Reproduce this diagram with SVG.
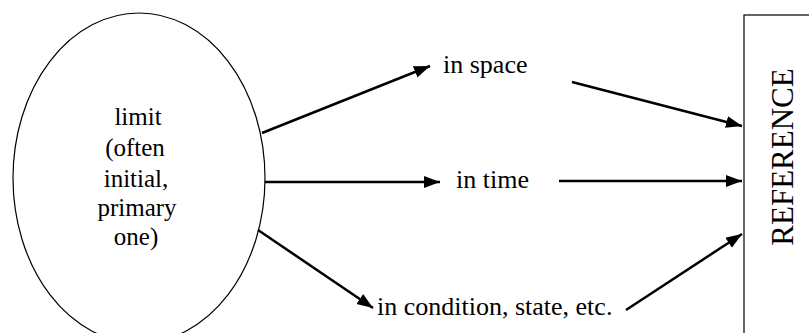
<svg xmlns="http://www.w3.org/2000/svg" width="809" height="333" viewBox="0 0 809 333">
<style>
.t{font-family:'Liberation Serif','Times New Roman',Times,serif;font-size:25px;fill:#000}
.l{font-size:26px}
.c{stroke:#000;stroke-width:2.5;fill:none;marker-end:url(#ah)}
.s{stroke:#000;stroke-width:1.2;fill:#fff}
</style>
<defs>
<marker id="ah" markerUnits="userSpaceOnUse" markerWidth="17" markerHeight="13" refX="16" refY="6" orient="auto">
<path d="M0,0 L16,6 L0,12 z" fill="#000"/>
</marker>
</defs>
<rect width="809" height="333" fill="#fff"/>
<g id="limit">
<ellipse class="s" cx="139" cy="178" rx="126" ry="165"/>
<text class="t" text-anchor="middle"><tspan x="138" y="125">limit</tspan><tspan x="135" y="156">(often</tspan><tspan x="136" y="187">initial,</tspan><tspan x="137" y="216">primary</tspan><tspan x="136" y="245">one)</tspan></text>
</g>
<g id="space"><text class="t l" x="443" y="73">in space</text></g>
<g id="time"><text class="t l" x="456" y="188">in time</text></g>
<g id="condition"><text class="t l" x="377" y="315">in condition, state, etc.</text></g>
<g id="reference">
<rect class="s" x="744" y="15" width="80" height="340"/>
<text class="t" style="font-size:31px" text-anchor="middle" transform="translate(793,157) rotate(-90)">REFERENCE</text>
</g>
<g id="connectors">
<line class="c" x1="262" y1="133" x2="430" y2="66"/>
<line class="c" x1="265" y1="182" x2="440" y2="182"/>
<line class="c" x1="258" y1="230" x2="373" y2="308"/>
<line class="c" x1="572" y1="82" x2="742" y2="126"/>
<line class="c" x1="559" y1="181" x2="742" y2="181"/>
<line class="c" x1="626" y1="310" x2="742" y2="234"/>
</g>
</svg>
